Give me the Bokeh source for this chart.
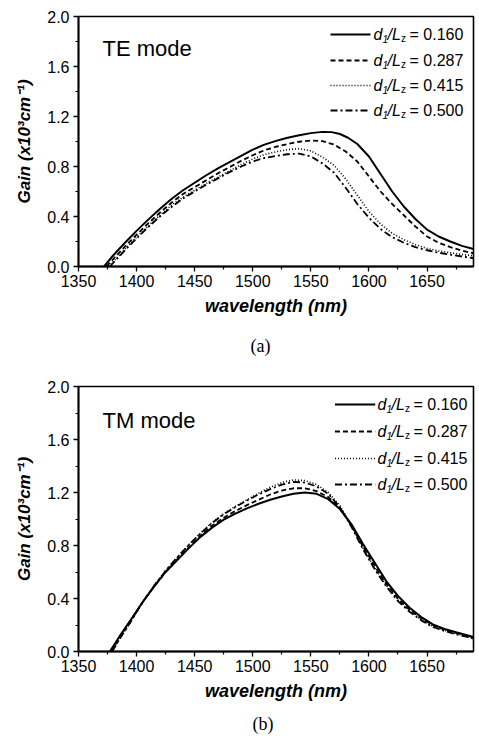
from bokeh.plotting import figure
from bokeh.models import Range1d, FixedTicker, NumeralTickFormatter, Title
from bokeh.layouts import column
from bokeh.embed import file_html
from bokeh.resources import INLINE
from bokeh.core.properties import value

# ---------------- data ----------------
ratios = ["0.160", "0.287", "0.415", "0.500"]

# TE mode (a)
te_wl_160 = [1372, 1380, 1390, 1400, 1410, 1420, 1430, 1440, 1450, 1460, 1470, 1480, 1490, 1500, 1510, 1520, 1530, 1540, 1550, 1560, 1568, 1575, 1582, 1590, 1600, 1610, 1620, 1630, 1640, 1650, 1660, 1670, 1680, 1690]
te_g_160 = [0.0, 0.09, 0.19, 0.285, 0.375, 0.46, 0.54, 0.61, 0.67, 0.73, 0.785, 0.835, 0.885, 0.935, 0.975, 1.005, 1.03, 1.05, 1.067, 1.077, 1.075, 1.06, 1.03, 0.98, 0.88, 0.74, 0.60, 0.48, 0.38, 0.295, 0.24, 0.20, 0.165, 0.14]
te_wl_287 = [1374, 1380, 1390, 1400, 1410, 1420, 1430, 1440, 1450, 1460, 1470, 1480, 1490, 1500, 1510, 1520, 1530, 1540, 1550, 1560, 1570, 1580, 1590, 1600, 1610, 1620, 1630, 1640, 1650, 1660, 1670, 1680, 1690]
te_g_287 = [0.0, 0.06, 0.16, 0.255, 0.345, 0.43, 0.51, 0.58, 0.635, 0.69, 0.745, 0.795, 0.845, 0.89, 0.93, 0.958, 0.98, 0.998, 1.008, 1.003, 0.975, 0.92, 0.84, 0.72, 0.60, 0.50, 0.41, 0.32, 0.24, 0.19, 0.155, 0.128, 0.105]
te_wl_415 = [1376, 1380, 1390, 1400, 1410, 1420, 1430, 1440, 1450, 1460, 1470, 1480, 1490, 1500, 1510, 1520, 1530, 1540, 1550, 1560, 1570, 1580, 1590, 1600, 1610, 1620, 1630, 1640, 1650, 1660, 1670, 1680, 1690]
te_g_415 = [0.0, 0.04, 0.14, 0.235, 0.325, 0.41, 0.49, 0.555, 0.61, 0.665, 0.715, 0.765, 0.815, 0.86, 0.895, 0.918, 0.935, 0.943, 0.925, 0.875, 0.81, 0.70, 0.57, 0.44, 0.34, 0.265, 0.215, 0.175, 0.145, 0.125, 0.11, 0.097, 0.085]
te_wl_500 = [1377, 1380, 1390, 1400, 1410, 1420, 1430, 1440, 1450, 1460, 1470, 1480, 1490, 1500, 1510, 1520, 1530, 1540, 1550, 1560, 1570, 1580, 1590, 1600, 1610, 1620, 1630, 1640, 1650, 1660, 1670, 1680, 1690]
te_g_500 = [0.0, 0.03, 0.13, 0.225, 0.315, 0.40, 0.475, 0.545, 0.60, 0.655, 0.705, 0.755, 0.80, 0.84, 0.868, 0.885, 0.898, 0.903, 0.88, 0.825, 0.75, 0.63, 0.50, 0.39, 0.30, 0.235, 0.19, 0.155, 0.13, 0.11, 0.095, 0.08, 0.066]

# TM mode (b)
tm_wl_160 = [1377, 1385, 1395, 1405, 1415, 1425, 1435, 1445, 1455, 1465, 1475, 1485, 1495, 1505, 1515, 1525, 1535, 1545, 1555, 1565, 1575, 1585, 1595, 1605, 1615, 1625, 1635, 1645, 1655, 1665, 1675, 1690]
tm_g_160 = [0.0, 0.11, 0.24, 0.37, 0.49, 0.60, 0.69, 0.78, 0.865, 0.935, 0.995, 1.04, 1.08, 1.115, 1.145, 1.17, 1.19, 1.20, 1.19, 1.15, 1.075, 0.96, 0.81, 0.67, 0.53, 0.42, 0.33, 0.26, 0.205, 0.17, 0.145, 0.11]
tm_wl_287 = [1378, 1385, 1395, 1405, 1415, 1425, 1435, 1445, 1455, 1465, 1475, 1485, 1495, 1505, 1515, 1525, 1535, 1545, 1555, 1565, 1575, 1585, 1595, 1605, 1615, 1625, 1635, 1645, 1655, 1665, 1675, 1690]
tm_g_287 = [0.0, 0.10, 0.235, 0.37, 0.49, 0.60, 0.695, 0.785, 0.875, 0.95, 1.01, 1.06, 1.105, 1.145, 1.185, 1.215, 1.232, 1.232, 1.21, 1.165, 1.085, 0.95, 0.79, 0.645, 0.51, 0.40, 0.315, 0.25, 0.20, 0.165, 0.14, 0.105]
tm_wl_415 = [1379, 1385, 1395, 1405, 1415, 1425, 1435, 1445, 1455, 1465, 1475, 1485, 1495, 1505, 1515, 1525, 1535, 1545, 1555, 1565, 1575, 1585, 1595, 1605, 1615, 1625, 1635, 1645, 1655, 1665, 1675, 1690]
tm_g_415 = [0.0, 0.09, 0.225, 0.37, 0.495, 0.61, 0.71, 0.805, 0.895, 0.975, 1.04, 1.095, 1.145, 1.195, 1.24, 1.275, 1.295, 1.29, 1.26, 1.20, 1.10, 0.95, 0.78, 0.63, 0.50, 0.39, 0.305, 0.24, 0.19, 0.16, 0.135, 0.10]
tm_wl_500 = [1379, 1385, 1395, 1405, 1415, 1425, 1435, 1445, 1455, 1465, 1475, 1485, 1495, 1505, 1515, 1525, 1535, 1545, 1555, 1565, 1575, 1585, 1595, 1605, 1615, 1625, 1635, 1645, 1655, 1665, 1675, 1690]
tm_g_500 = [0.0, 0.09, 0.225, 0.37, 0.495, 0.61, 0.71, 0.805, 0.89, 0.97, 1.035, 1.09, 1.14, 1.185, 1.225, 1.26, 1.28, 1.275, 1.245, 1.19, 1.09, 0.94, 0.77, 0.62, 0.49, 0.38, 0.30, 0.235, 0.185, 0.155, 0.13, 0.098]

x_major = [1350, 1400, 1450, 1500, 1550, 1600, 1650]
x_minor = [1375, 1425, 1475, 1525, 1575, 1625, 1675]
y_major = [0.0, 0.4, 0.8, 1.2, 1.6, 2.0]
y_minor = [0.2, 0.6, 1.0, 1.4, 1.8]

# ---------------- styles ----------------
FONT = "Liberation Sans"
X0, X1 = 1350, 1690
Y0, Y1 = 0.0, 2.0
dashes = ["solid", "5 3", "1 2", "7 3 2 3"]
widths = [2.0, 1.8, 1.6, 1.8]
FIG_W = 479


def make_fig(height, b_top, b_bottom, b_left, b_right, caption, cap_standoff, cap_offset, cap_valign):
    p = figure(width=FIG_W, height=height, output_backend="svg", toolbar_location=None,
               x_range=Range1d(X0, X1), y_range=Range1d(Y0, Y1),
               min_border_top=b_top, min_border_bottom=b_bottom,
               min_border_left=b_left, min_border_right=b_right,
               background_fill_color="white", border_fill_color="white")
    p.xgrid.visible = False
    p.ygrid.visible = False
    p.outline_line_color = "black"
    p.outline_line_width = 1.6
    p.xaxis.ticker = FixedTicker(ticks=x_major, minor_ticks=x_minor)
    p.yaxis.ticker = FixedTicker(ticks=y_major, minor_ticks=y_minor)
    p.yaxis.formatter = NumeralTickFormatter(format="0.0")
    for ax in (p.xaxis[0], p.yaxis[0]):
        ax.axis_line_width = 1.8
        ax.axis_line_color = "black"
        ax.major_tick_out = 5
        ax.major_tick_in = 0
        ax.minor_tick_out = 3
        ax.minor_tick_in = 0
        ax.major_tick_line_width = 1.3
        ax.minor_tick_line_width = 1.2
        ax.major_label_text_font = FONT
        ax.major_label_text_font_size = "16px"
        ax.major_label_text_color = "black"
        ax.axis_label_text_font = FONT
        ax.axis_label_text_font_style = "bold italic"
        ax.axis_label_text_color = "black"
    p.xaxis.axis_label = "wavelength (nm)"
    p.xaxis.axis_label_text_font_size = "18px"
    p.xaxis.major_label_standoff = 3
    p.xaxis.axis_label_standoff = 6
    p.yaxis.axis_label = "Gain (x10\u00b3cm\u207b\u00b9)"
    p.yaxis.axis_label_text_font_size = "17px"
    p.yaxis.major_label_standoff = 4
    p.yaxis.axis_label_standoff = 10
    p.add_layout(Title(text=caption, align="left", offset=cap_offset, standoff=cap_standoff,
                       vertical_align=cap_valign,
                       text_font="Liberation Serif", text_font_size="18px",
                       text_font_style="normal", text_color="black"), "below")
    return p


def add_legend(p, frame_w, frame_h, rows_px, sample_l, sample_r, text_l):
    xpp = (X1 - X0) / frame_w
    ypp = (Y1 - Y0) / frame_h
    for i, r in enumerate(ratios):
        yd = Y1 - rows_px[i] * ypp
        p.segment(x0=[X1 - sample_l * xpp], y0=[yd], x1=[X1 - sample_r * xpp], y1=[yd],
                  line_color="black", line_width=widths[i], line_dash=dashes[i])
        pieces = [
            ("d", 0, 0, "16px", "italic"),
            ("1", 9, 4, "10px", "italic"),
            ("/", 14, 0, "16px", "italic"),
            ("L", 18.5, 0, "16px", "italic"),
            ("z", 27.5, 4, "10px", "normal"),
            ("= " + r, 36, 0, "16px", "normal"),
        ]
        for txt, dx, dy, fs, st in pieces:
            p.text(x=[X1], y=[Y1], text=[txt], x_offset=-text_l + dx, y_offset=rows_px[i] + dy,
                   text_font=value(FONT), text_font_size=fs, text_font_style=st,
                   text_color="black", text_baseline="middle", text_align="left")


# ---- (a) TE mode ----
p1 = make_fig(370, 16, 104, 78, 6, "(a)", 30, 172, "bottom")
te_series = [(te_wl_160, te_g_160), (te_wl_287, te_g_287), (te_wl_415, te_g_415), (te_wl_500, te_g_500)]
for i, (wl, g) in enumerate(te_series):
    p1.line(wl, g, line_color="black", line_width=widths[i], line_dash=dashes[i])
p1.text(x=[X0], y=[Y1], text=["TE mode"], x_offset=24, y_offset=32,
        text_font=value(FONT), text_font_size="22px", text_color="black",
        text_baseline="middle", text_align="left")
add_legend(p1, 395, 250, [18, 44, 69, 94], 143, 103, 100)

# ---- (b) TM mode ----
p2 = make_fig(375, 16, 94, 76, 1, "(b)", 20, 174, "top")
tm_series = [(tm_wl_160, tm_g_160), (tm_wl_287, tm_g_287), (tm_wl_415, tm_g_415), (tm_wl_500, tm_g_500)]
for i, (wl, g) in enumerate(tm_series):
    p2.line(wl, g, line_color="black", line_width=widths[i], line_dash=dashes[i])
p2.text(x=[X0], y=[Y1], text=["TM mode"], x_offset=24, y_offset=34,
        text_font=value(FONT), text_font_size="22px", text_color="black",
        text_baseline="middle", text_align="left")
add_legend(p2, 402, 265, [18, 45, 72, 98], 141, 100, 96)

layout = column(p1, p2, spacing=0)
open("out.html", "w").write(file_html(layout, INLINE))
